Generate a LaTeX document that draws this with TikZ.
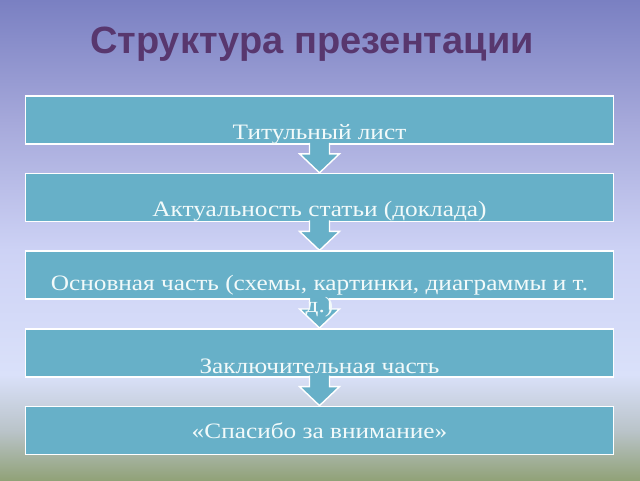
\documentclass[tikz,border=0pt]{standalone}
\usepackage{fontspec}
\setmainfont{Liberation Serif}
\newfontfamily\stagefont[FakeStretch=1.15]{Liberation Serif}
\newfontfamily\headfont{Liberation Sans}
\usetikzlibrary{positioning, calc}
\definecolor{skytop}{RGB}{122,128,194}
\definecolor{skymid}{RGB}{165,168,218}
\definecolor{skylight}{RGB}{205,210,245}
\definecolor{skypale}{RGB}{218,225,250}
\definecolor{skygrey}{RGB}{185,195,200}
\definecolor{grass}{RGB}{145,162,120}
\definecolor{boxteal}{RGB}{103,176,200}
\definecolor{headplum}{RGB}{88,55,110}
\definecolor{chalk}{RGB}{242,250,250}
\pgfdeclarelayer{back}
\pgfsetlayers{back,main}

\tikzset{
  stage/.style={draw=white, line width=1.6pt, fill=boxteal, minimum width=588pt,
    minimum height=48pt, inner sep=0pt},
  stagetext/.style={text=chalk, font=\stagefont\fontsize{22}{22}\selectfont, align=center, inner sep=0pt},
  downarrow/.style={draw=white, line width=1.4pt, fill=boxteal, line join=miter},
  headtext/.style={text=headplum, font=\headfont\bfseries\fontsize{38}{44}\selectfont}
}

\begin{document}
\begin{tikzpicture}[x=1pt, y=-1pt, node distance=28pt]
\useasboundingbox (0,0) rectangle (640,480);

% Background
\begin{pgfonlayer}{back}
\fill[top color=skytop, bottom color=skymid] (0,0) rectangle (640,120);
\fill[top color=skymid, bottom color=skylight] (0,119.5) rectangle (640,250);
\fill[top color=skylight, bottom color=skypale] (0,249.5) rectangle (640,375);
\fill[top color=skypale, bottom color=skygrey] (0,374.5) rectangle (640,432);
\fill[top color=skygrey, bottom color=grass] (0,431.5) rectangle (640,480);
\end{pgfonlayer}

\node[headtext, anchor=base] (title) at (312,53) {Структура презентации};

% Stages
\node[stage] (b1) at (319.5,120) {};
\node[stage, below=of b1] (b2) {};
\node[stage, below=of b2] (b3) {};
\node[stage, below=of b3] (b4) {};
\node[stage, below=of b4] (b5) {};

% Arrows between stages
\foreach \a/\b in {b1/b2, b2/b3, b3/b4, b4/b5} {
  \filldraw[downarrow] ($(\a.south)+(-10,-2)$) -- ($(\b.north)+(-10,-19)$)
    -- ($(\b.north)+(-20,-19)$) -- (\b.north) -- ($(\b.north)+(20,-19)$)
    -- ($(\b.north)+(10,-19)$) -- ($(\a.south)+(10,-2)$);
}

% Labels
\node[stagetext] (t1) at ($(b1.center)+(0,14)$) {Титульный лист};
\node[stagetext] (t2) at ($(b2.center)+(0,14)$) {Актуальность статьи (доклада)};
\node[stagetext] (t3) at ($(b3.center)+(0,21)$) {Основная часть (схемы, картинки, диаграммы и т.\\д.)};
\node[stagetext] (t4) at ($(b4.center)+(0,14)$) {Заключительная часть};
\node[stagetext] (t5) at (b5.center) {«Спасибо за внимание»};
\end{tikzpicture}
\end{document}
